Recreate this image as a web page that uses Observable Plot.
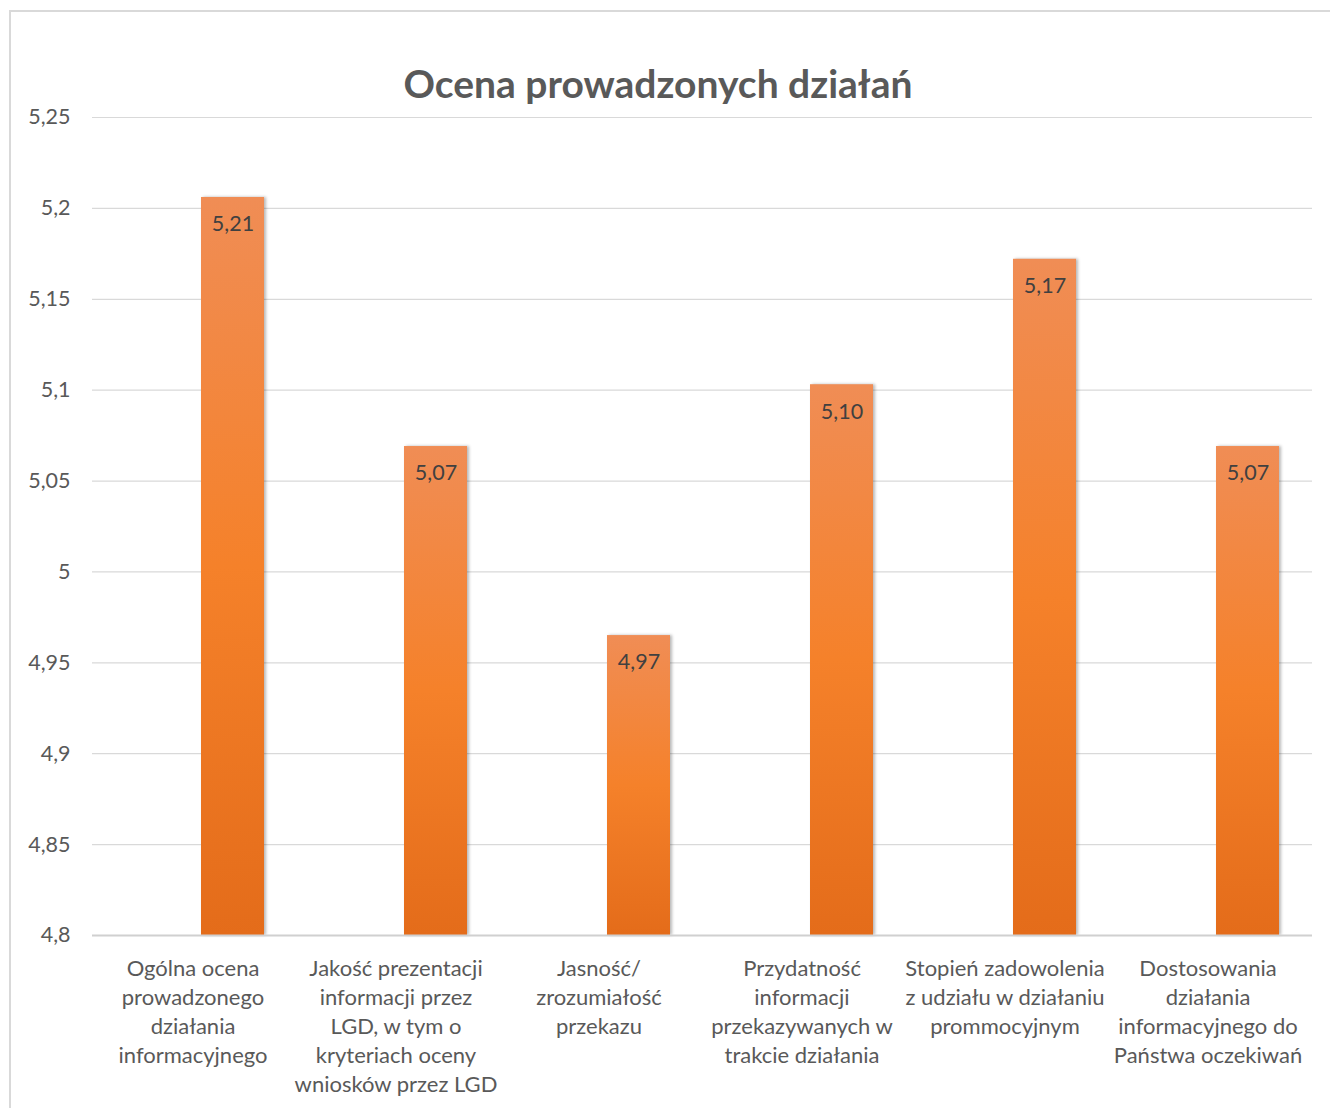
<!DOCTYPE html>
<html>
<head>
<meta charset="utf-8">
<script src="https://cdn.jsdelivr.net/npm/d3@7"></script>
<script src="https://cdn.jsdelivr.net/npm/@observablehq/plot@0.6"></script>
<style>
  html, body { margin: 0; padding: 0; background: #fff; }
  #wrap { position: relative; width: 1330px; height: 1108px; overflow: hidden; font-family: Lato, "Open Sans", sans-serif; }
  #frame { position: absolute; left: 9px; top: 10px; width: 1340px; height: 1120px; border: 2px solid #d9d9d9; box-sizing: border-box; }
  #title { position: absolute; left: 0; width: 1316px; top: 60px; text-align: center; font-size: 39px; font-weight: bold; color: #595959; margin: 0; }
  #chart { position: absolute; left: 0; top: 0; }
  #chart .bars { filter: drop-shadow(2px 0px 1.5px rgba(0,0,0,0.28)); }
</style>
</head>
<body>
<div id="wrap">
  <div id="frame"></div>
  <div id="chart"></div>
  <h2 id="title">Ocena prowadzonych działań</h2>
</div>
<script>
const categories = [
  "Ogólna ocena\nprowadzonego\ndziałania\ninformacyjnego",
  "Jakość prezentacji\ninformacji przez\nLGD, w tym o\nkryteriach oceny\nwniosków przez LGD",
  "Jasność/\nzrozumiałość\nprzekazu",
  "Przydatność\ninformacji\nprzekazywanych w\ntrakcie działania",
  "Stopień zadowolenia\nz udziału w działaniu\nprommocyjnym",
  "Dostosowania\ndziałania\ninformacyjnego do\nPaństwa oczekiwań"
];
const values = [5.206, 5.069, 4.965, 5.103, 5.172, 5.069];
const valueLabels = ["5,21", "5,07", "4,97", "5,10", "5,17", "5,07"];
const yTicks = [4.8, 4.85, 4.9, 4.95, 5, 5.05, 5.1, 5.15, 5.2, 5.25];
const yDomain = [4.8, 5.25];
const baseline = 4.8;

const data = categories.map((c, i) => ({cat: c, value: values[i], label: valueLabels[i], base: baseline}));
const fmt = d => String(+d.toFixed(2)).replace(".", ",");

const plot = Plot.plot({
  width: 1330,
  height: 1108,
  marginLeft: 92,
  marginRight: 18,
  marginTop: 117,
  marginBottom: 173,
  style: { fontFamily: "Lato, 'Open Sans', sans-serif", background: "transparent", overflow: "visible" },
  x: { domain: categories, padding: 0, label: null },
  y: { domain: yDomain, label: null },
  marks: [
    Plot.ruleY(yTicks.filter(t => t !== baseline), { stroke: "#d9d9d9", strokeWidth: 1.2, strokeOpacity: 1 }),
    Plot.barY(data, { x: "cat", y1: "base", y2: "value", fill: "url(#barGrad)", insetLeft: 108, insetRight: 32, className: "bars" }),
    Plot.ruleY([baseline], { stroke: "#d0d0d0", strokeWidth: 2 }),
    Plot.text(data, { x: "cat", y: "value", text: "label", dx: 38, dy: 27, fill: "#404040", fontSize: 21.5 }),
    Plot.axisY({ ticks: yTicks, tickFormat: fmt, tickSize: 0, tickPadding: 22, fontSize: 21.5, color: "#595959", label: null }),
    Plot.axisX({ tickSize: 0, tickPadding: 20, dx: -2, fontSize: 22, lineHeight: 1.32, color: "#595959", label: null, tickFormat: d => d })
  ]
});

// gradient definition
const svg = d3.select(plot);
const defs = svg.insert("defs", ":first-child");
const g = defs.append("linearGradient").attr("id", "barGrad").attr("x1", 0).attr("y1", 0).attr("x2", 0).attr("y2", 1);
g.append("stop").attr("offset", "0%").attr("stop-color", "#f08d55");
g.append("stop").attr("offset", "50%").attr("stop-color", "#f5812a");
g.append("stop").attr("offset", "100%").attr("stop-color", "#e46c1a");

document.getElementById("chart").appendChild(plot);
</script>
</body>
</html>
